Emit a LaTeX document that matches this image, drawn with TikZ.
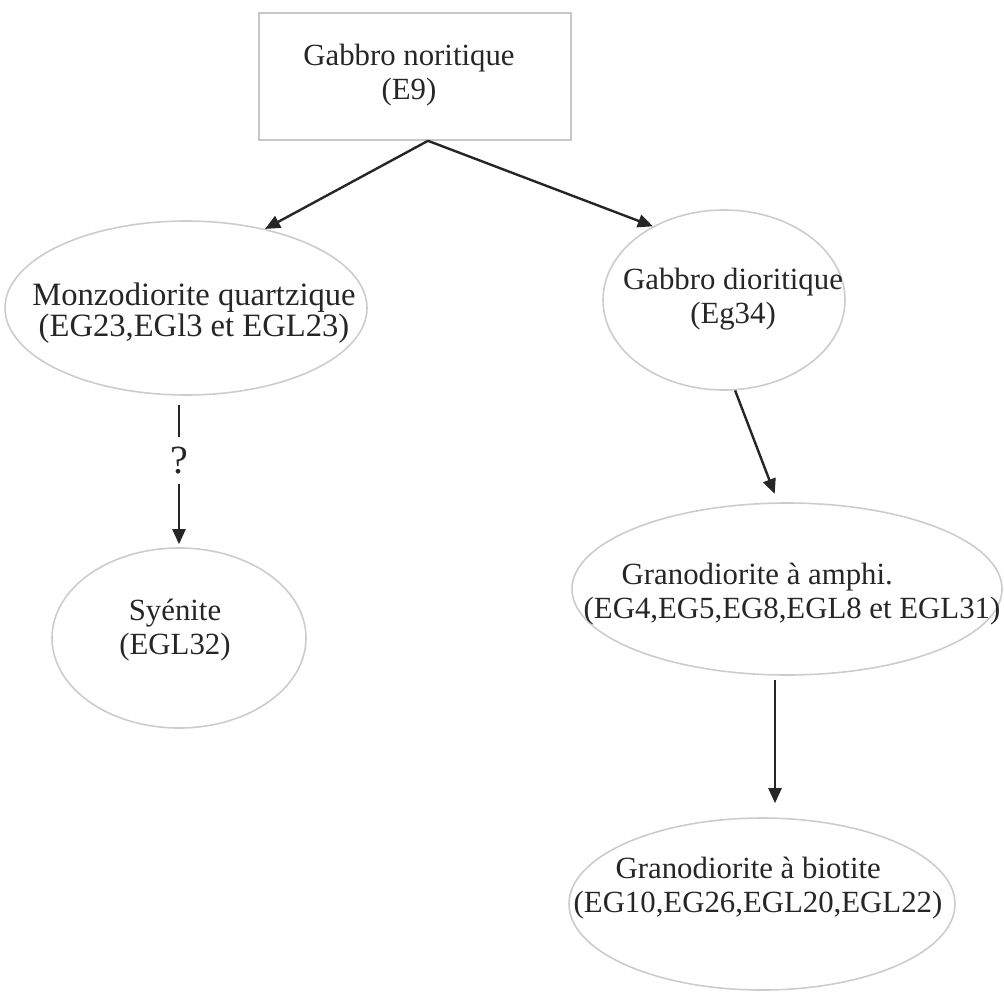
\documentclass[tikz,border=0pt]{standalone}
\usepackage{fontspec}
\setmainfont{Liberation Serif}
\usetikzlibrary{arrows.meta,shapes.geometric}

\begin{document}
\begin{tikzpicture}[x=0.5pt,y=-0.5pt,
  every node/.style={font=\fontsize{15.4}{17}\selectfont,text=black!85},
  rock/.style={draw=black!20,line width=.8pt,ellipse,inner sep=0pt},
  txt/.style={align=center,inner sep=0pt},
  arr/.style={draw=black!85,line width=1.2pt,-{Triangle[length=7.5pt,width=6.5pt]}}]
\useasboundingbox (0,0) rectangle (1004,991);
% frames
\node[draw=black!22,line width=.8pt,minimum width=156pt,minimum height=63.5pt,inner sep=0pt] (gabnor) at (415,76.5) {};
\node[rock,minimum width=181pt,minimum height=87pt] (monzo) at (186,308) {};
\node[rock,minimum width=121pt,minimum height=90pt] (dior) at (724,300) {};
\node[rock,minimum width=127pt,minimum height=90pt] (syen) at (179,638) {};
\node[rock,minimum width=215pt,minimum height=86pt] (amphi) at (787,589) {};
\node[rock,minimum width=193pt,minimum height=86pt] (biot) at (762,904) {};
% texts
\node[txt] (t-gabnor) at (409,75) {Gabbro noritique\\(E9)};
\node[txt,font=\fontsize{16.3}{15.5}\selectfont] (t-monzo) at (194,313) {Monzodiorite quartzique\\(EG23,EGl3 et EGL23)};
\node[txt] (t-dior) at (733,299) {Gabbro dioritique\\(Eg34)};
\node[txt] (t-syen) at (175,630) {Syénite\\(EGL32)};
\node[txt,align=left] (t-amphi) at (792,594) {\hspace*{19pt}Granodiorite à amphi.\\(EG4,EG5,EG8,EGL8 et EGL31)};
\node[txt,align=left] (t-biot) at (758,888) {\hspace*{21pt}Granodiorite à biotite\\(EG10,EG26,EGL20,EGL22)};
% arrows
\draw[arr] ([xshift=6.5pt]gabnor.south) -- (monzo.45);
\draw[arr] ([xshift=6.5pt]gabnor.south) -- (dior.134);
\draw[arr,shorten <=4.5pt,shorten >=1.5pt] (monzo.south -| syen.north) -- node[pos=.43,fill=white,font=\fontsize{20}{22}\selectfont,inner xsep=2pt,inner ysep=5pt] (qmark) {?} (syen.north);
\draw[arr,shorten >=4.5pt] (dior.-83) -- (amphi.96);
\draw[arr,shorten <=2pt,shorten >=7pt] ([xshift=-6pt]amphi.south) -- ([xshift=-6pt]amphi.south |- biot.north);
\end{tikzpicture}
\end{document}
